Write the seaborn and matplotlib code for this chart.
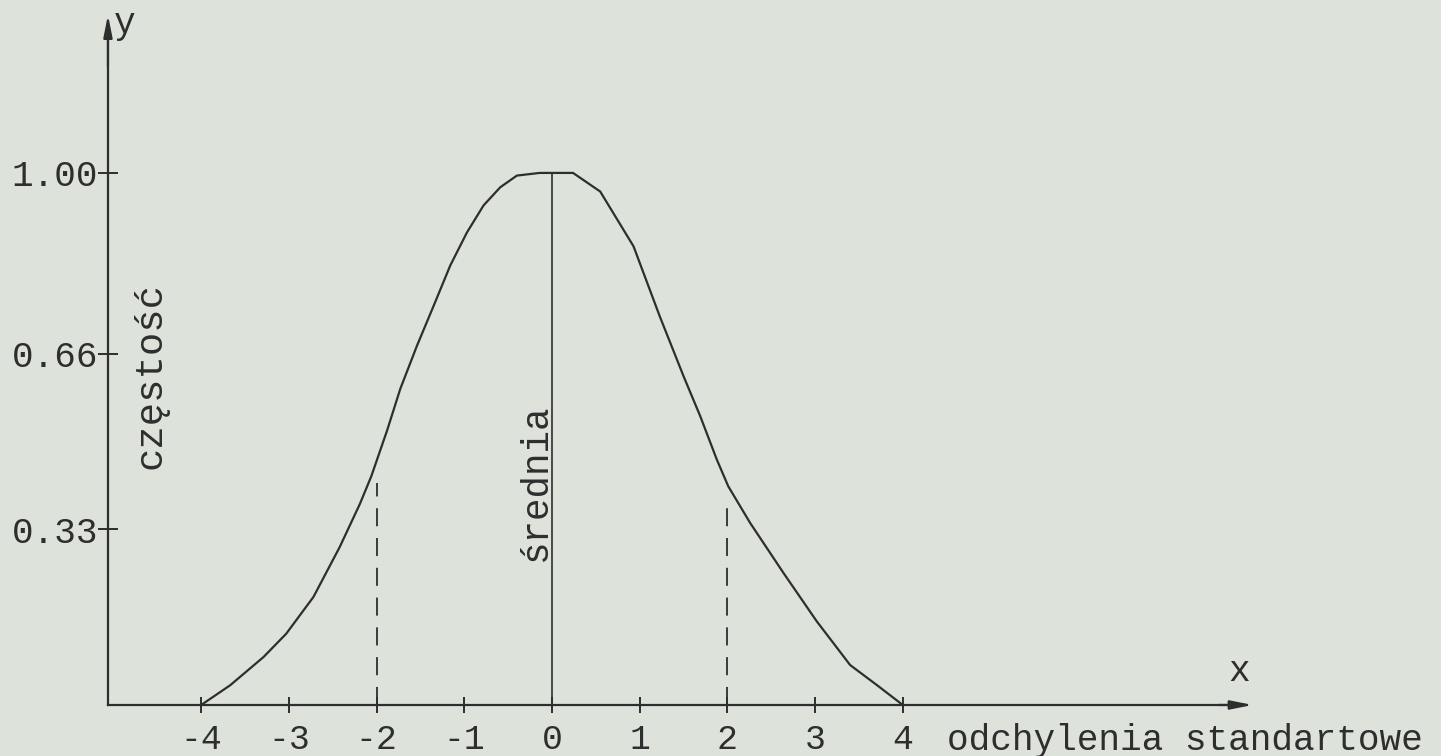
import matplotlib
matplotlib.use("Agg")
import matplotlib.pyplot as plt
import seaborn as sns

# curve (x in standard deviations, y relative frequency)
curve_x = [-4.0, -3.67, -3.29, -3.03, -2.72, -2.42, -2.19, -2.06, -1.88, -1.73,
           -1.54, -1.35, -1.16, -0.97, -0.78, -0.59, -0.40, -0.14, 0.24, 0.55,
           0.93, 1.23, 1.50, 1.69, 1.88, 2.01, 2.26, 2.64, 3.02, 3.40,
           3.70, 4.0]
curve_y = [0.0, 0.037, 0.09, 0.134, 0.203, 0.297, 0.378, 0.43, 0.516, 0.594,
           0.675, 0.75, 0.826, 0.888, 0.939, 0.973, 0.995, 1.0, 1.0, 0.965,
           0.862, 0.73, 0.618, 0.543, 0.461, 0.411, 0.342, 0.248, 0.157, 0.075,
           0.038, 0.0]

x_ticks = [-4, -3, -2, -1, 0, 1, 2, 3, 4]
x_tick_labels = ["-4", "-3", "-2", "-1", "0", "1", "2", "3", "4"]
y_ticks = [0.33, 0.66, 1.00]
y_tick_labels = ["0.33", "0.66", "1.00"]
sd_lines = [-2, 2]
sd_line_tops = [0.417, 0.39]

ink = "#2e2e2e"
paper = "#dde3db"

sns.set_theme(style="white")
plt.rcParams["font.family"] = ["Liberation Mono", "DejaVu Sans Mono"]

fig = plt.figure(figsize=(14.41, 7.56), dpi=100, facecolor=paper)
ax = fig.add_axes([0, 0, 1, 1])
ax.set_facecolor(paper)
ax.set_xlim(-6.294, 10.137)
ax.set_ylim(-0.0959, 1.325)

# the curve
sns.lineplot(x=curve_x, y=curve_y, ax=ax, color=ink, linewidth=1.6,
             sort=False, estimator=None, solid_joinstyle="round",
             solid_capstyle="round")

# mean line and dashed +-2 sd lines
ax.plot([0, 0], [0, 1.0], color=ink, linewidth=1.2)
for s, top in zip(sd_lines, sd_line_tops):
    ax.plot([s, s], [0, top], color=ink, linewidth=1.3, dashes=(10, 6.5))

# axes as spines
x0 = -5.063
for side in ["top", "right"]:
    ax.spines[side].set_visible(False)
ax.spines["left"].set_position(("data", x0))
ax.spines["bottom"].set_position(("data", 0))
ax.spines["left"].set_bounds(0, 1.25)
ax.spines["bottom"].set_bounds(x0, 7.7)
for side in ["left", "bottom"]:
    ax.spines[side].set_color(ink)
    ax.spines[side].set_linewidth(1.6)

ax.set_xticks(x_ticks)
ax.set_xticklabels(x_tick_labels)
ax.set_yticks(y_ticks)
ax.set_yticklabels(y_tick_labels)
ax.tick_params(axis="x", bottom=True, direction="inout", length=12, width=1.4,
               color=ink, labelcolor=ink, labelsize=25, pad=7)
ax.tick_params(axis="y", left=True, direction="inout", length=14, width=1.4,
               color=ink, labelcolor=ink, labelsize=26, pad=0)

# arrow heads
arrow = dict(arrowstyle="-|>,head_length=1.1,head_width=0.22", color=ink,
             lw=1.6, shrinkA=0, shrinkB=0)
ax.annotate("", xy=(7.99, 0), xytext=(7.6, 0), arrowprops=arrow)
ax.annotate("", xy=(x0, 1.297), xytext=(x0, 1.2), arrowprops=arrow)

# texts
ax.text(7.84, 0.03, "x", fontsize=26, color=ink, ha="center", va="bottom")
ax.text(-4.87, 1.28, "y", fontsize=26, color=ink, ha="center", va="center")
ax.text(4.5, -0.066, "odchylenia standartowe", fontsize=26, color=ink,
        ha="left", va="center")
ax.text(-4.58, 0.62, "częstość", fontsize=28, color=ink, rotation=90,
        ha="center", va="center")
ax.text(-0.18, 0.418, "średnia", fontsize=27, color=ink, rotation=90,
        ha="center", va="center")

fig.savefig("out.png", dpi=100, facecolor=paper)
